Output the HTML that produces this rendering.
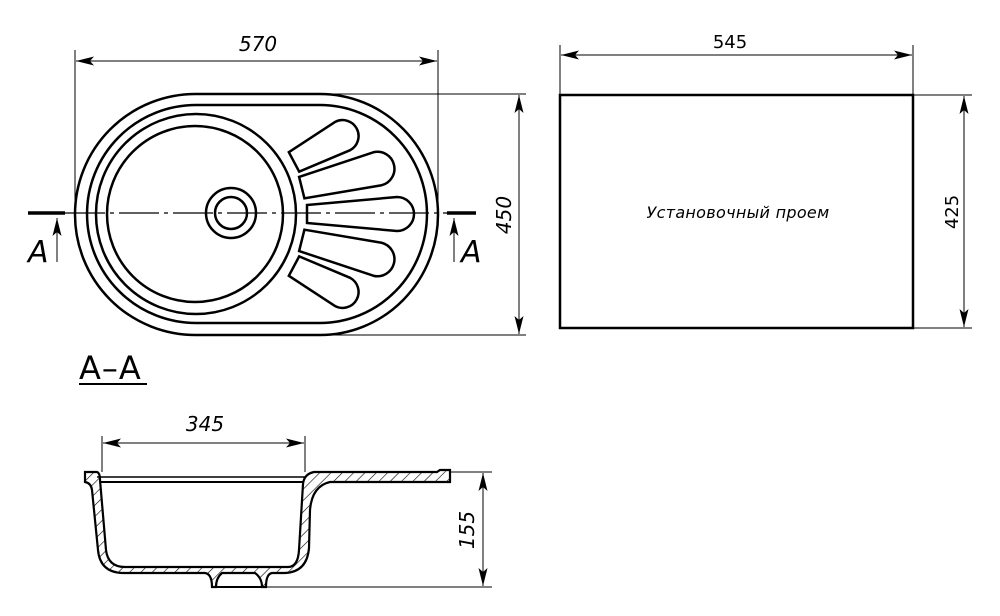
<!DOCTYPE html>
<html><head><meta charset="utf-8"><style>
html,body{margin:0;padding:0;background:#fff;}
svg{display:block;}
text{font-family:"DejaVu Sans","Liberation Sans",sans-serif;fill:#000;}
</style></head><body>
<svg width="1000" height="616" viewBox="0 0 1000 616" xmlns="http://www.w3.org/2000/svg">
<defs>
<marker id="ar" viewBox="0 0 18 9" refX="18" refY="4.5" markerWidth="18" markerHeight="9" markerUnits="userSpaceOnUse" orient="auto-start-reverse">
<path d="M0,0 L18,4.5 L0,9 L4,4.5 Z" fill="#000"/>
</marker>
<pattern id="hat" patternUnits="userSpaceOnUse" width="8" height="8" patternTransform="rotate(45)">
<line x1="0" y1="0" x2="0" y2="8" stroke="#000" stroke-width="1.2"/>
</pattern>
</defs>

<g fill="none" stroke="#000" stroke-width="2.5">
<path d="M320,94 L195.5,94 A120.5,120.5 0 0 0 195.5,335 L320,335 A118,120.5 0 0 0 320,94 Z"/>
<path d="M320,105 L196,105 A109,109 0 0 0 196,323 L320,323 A107,109 0 0 0 320,105 Z"/>
<circle cx="196" cy="214" r="100"/>
<circle cx="195" cy="214" r="88"/>
<circle cx="231" cy="213" r="25"/>
<circle cx="231" cy="213" r="16"/>
<g transform="translate(196,214)">
<path transform="rotate(-28)" d="M111,-11 L166,-16 A16,16 0 0 1 166,16 L111,11 Z"/>
<path transform="rotate(-14)" d="M109,-11 L187,-17 A17,17 0 0 1 187,17 L109,11 Z"/>
<path d="M111,-9 L201,-17 A17,17 0 0 1 201,17 L111,9 Z"/>
<path transform="rotate(14)" d="M109,-11 L187,-17 A17,17 0 0 1 187,17 L109,11 Z"/>
<path transform="rotate(28)" d="M111,-11 L166,-16 A16,16 0 0 1 166,16 L111,11 Z"/>
</g>
</g>
<line x1="65" y1="213" x2="447" y2="213" stroke="#000" stroke-width="1.2" stroke-dasharray="40,5,4,5"/>
<line x1="28" y1="213" x2="65" y2="213" stroke="#000" stroke-width="3.5"/>
<line x1="447" y1="213" x2="476" y2="213" stroke="#000" stroke-width="3.5"/>
<line x1="57" y1="262" x2="57" y2="218" stroke="#000" stroke-width="1" marker-end="url(#ar)"/>
<line x1="454" y1="262" x2="454" y2="218" stroke="#000" stroke-width="1" marker-end="url(#ar)"/>
<text x="28" y="262" font-size="30" font-style="italic" font-family="Liberation Sans">A</text>
<text x="461" y="262" font-size="30" font-style="italic" font-family="Liberation Sans">A</text>

<g stroke="#000" stroke-width="1">
<line x1="75" y1="50" x2="75" y2="213"/>
<line x1="438" y1="50" x2="438" y2="213"/>
<line x1="76" y1="61" x2="437" y2="61" marker-start="url(#ar)" marker-end="url(#ar)"/>
<line x1="320" y1="94" x2="526" y2="94"/>
<line x1="320" y1="335" x2="526" y2="335"/>
<line x1="519" y1="95" x2="519" y2="334" marker-start="url(#ar)" marker-end="url(#ar)"/>
</g>
<text x="258" y="51" font-size="20" font-style="italic" text-anchor="middle">570</text>
<text transform="translate(511,215) rotate(-90)" font-size="20" font-style="italic" text-anchor="middle">450</text>

<rect x="560" y="95" width="353" height="233" fill="none" stroke="#000" stroke-width="2.5"/>
<g stroke="#000" stroke-width="1">
<line x1="560" y1="45" x2="560" y2="95"/>
<line x1="913" y1="45" x2="913" y2="95"/>
<line x1="561" y1="55" x2="912" y2="55" marker-start="url(#ar)" marker-end="url(#ar)"/>
<line x1="913" y1="95" x2="972" y2="95"/>
<line x1="913" y1="328" x2="972" y2="328"/>
<line x1="964" y1="96" x2="964" y2="327" marker-start="url(#ar)" marker-end="url(#ar)"/>
</g>
<text x="730" y="48" font-size="18" text-anchor="middle">545</text>
<text transform="translate(958,212) rotate(-90)" font-size="18" text-anchor="middle">425</text>
<text x="738" y="218" font-size="16" font-style="italic" text-anchor="middle" letter-spacing="0.3">Установочный проем</text>

<text x="79" y="379" font-size="32" letter-spacing="1">A–A</text>
<line x1="79" y1="384" x2="147" y2="384" stroke="#000" stroke-width="2"/>

<path d="M85,472 H97 Q100,473 100,480 L106,550 Q108,567 125,567 H288 Q298,567 299,550 L303,484 Q304,474 314,472 H437 L440,470 H450 V482 H330 Q312,486 310,510 L309,548 Q307,572 285,573 H272 Q266,574 266,587 H262 Q262,578 255,573 H222 Q216,578 216,587 H212 Q212,574 205,573 H122 Q100,572 98,550 L92,490 Q91,483 85,482 Z" fill="url(#hat)" stroke="#000" stroke-width="2.2"/>
<g stroke="#000" fill="none">
<line x1="97" y1="477" x2="306" y2="477" stroke-width="1.5"/>
<line x1="100" y1="482" x2="304" y2="482" stroke-width="2"/>
<line x1="216" y1="587" x2="266" y2="587" stroke-width="2"/>
</g>
<g stroke="#000" stroke-width="1">
<line x1="102" y1="436" x2="102" y2="472"/>
<line x1="305" y1="436" x2="305" y2="472"/>
<line x1="103" y1="443" x2="304" y2="443" marker-start="url(#ar)" marker-end="url(#ar)"/>
<line x1="450" y1="472" x2="492" y2="472"/>
<line x1="266" y1="587" x2="492" y2="587"/>
<line x1="483" y1="473" x2="483" y2="586" marker-start="url(#ar)" marker-end="url(#ar)"/>
</g>
<text x="205" y="431" font-size="20" font-style="italic" text-anchor="middle">345</text>
<text transform="translate(474,530) rotate(-90)" font-size="20" font-style="italic" text-anchor="middle">155</text>
</svg>
</body></html>
